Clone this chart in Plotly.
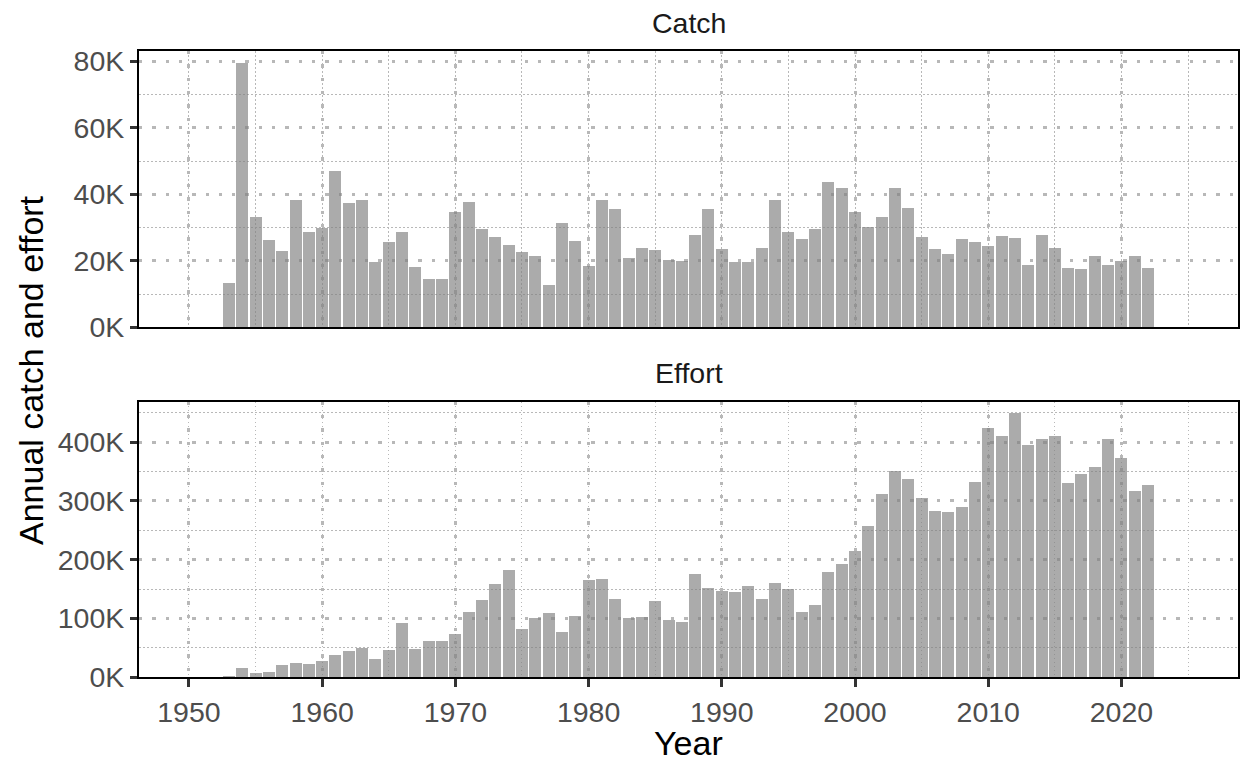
import plotly.graph_objects as go

years = list(range(1953, 2023))

catch = [13.4, 79.6, 33.3, 26.3, 23.0, 38.3, 28.6, 29.8, 47.0, 37.3,
         38.3, 19.5, 25.6, 28.6, 18.1, 14.4, 14.4, 34.6, 37.6, 29.6,
         27.2, 24.8, 22.6, 21.5, 12.7, 31.3, 25.9, 18.4, 38.3, 35.6,
         20.8, 23.8, 23.2, 20.2, 19.8, 27.9, 35.6, 23.6, 19.5, 19.5,
         23.8, 38.3, 28.6, 26.6, 29.6, 43.6, 42.0, 34.6, 30.2, 33.3,
         42.0, 36.0, 27.2, 23.6, 21.9, 26.6, 25.6, 24.6, 27.6, 26.9,
         18.8, 27.9, 23.9, 17.8, 17.4, 21.5, 18.8, 19.8, 21.5, 17.8]
catch = [v * 1000 for v in catch]

effort = [3.4, 17, 7.4, 9, 22, 24.4, 22.7, 27.8, 38, 45.4,
          51, 32.3, 47, 93, 48.8, 62.4, 62.4, 73.7, 111.7, 132.7,
          159.3, 183.7, 82.8, 102, 109.4, 77.1, 105.4, 166, 168.4, 133.8,
          101.5, 103.7, 130.4, 98, 94.1, 175.7, 153, 146.8, 145, 156.5,
          133.8, 160.4, 150.8, 111, 124, 179.7, 192.7, 215.4, 257.4, 312.4,
          352, 337.3, 305, 284, 281.7, 289.7, 333.3, 424, 411, 450,
          396.3, 405.3, 411, 331, 347, 357.7, 405.3, 373, 318, 327]
effort = [v * 1000 for v in effort]

catch_ticks = [0, 20000, 40000, 60000, 80000]
effort_ticks = [0, 100000, 200000, 300000, 400000]
x_ticks = [1950, 1960, 1970, 1980, 1990, 2000, 2010, 2020]

panel_titles = ["Catch", "Effort"]
x_title = "Year"
y_title = "Annual catch and effort"

FONT = "Liberation Sans, Arial, sans-serif"
BAR = "rgba(128,128,128,0.66)"
GRID = "#b8b8b8"
TICKSIZE = 28.5

def k_label(v):
    return f"{int(v/1000)}K"

fig = go.Figure()
fig.add_trace(go.Bar(x=years, y=catch, width=0.9, marker=dict(color=BAR, line=dict(width=0)),
                     xaxis="x", yaxis="y", showlegend=False))
fig.add_trace(go.Bar(x=years, y=effort, width=0.9, marker=dict(color=BAR, line=dict(width=0)),
                     xaxis="x2", yaxis="y2", showlegend=False))

W, H = 1243, 761
xd = [139 / W, 1238 / W]
top_dom = [(H - 327.3) / H, (H - 51) / H]
bot_dom = [(H - 677.3) / H, (H - 401.7) / H]

xcommon = dict(
    range=[1946.25, 2028.75], tickvals=x_ticks,
    showgrid=True, gridcolor=GRID, gridwidth=3.3, griddash="3.3px,10px",
    minor=dict(dtick=5, tick0=1950, showgrid=True, gridcolor=GRID, gridwidth=1.3,
               griddash="1.5px,2.5px", ticks=""),
    showline=True, mirror=True, linecolor="black", linewidth=2,
    zeroline=False, domain=xd, automargin=False,
)
ycommon = dict(
    showgrid=True, gridcolor=GRID, gridwidth=3.3, griddash="3.3px,10px",
    showline=True, mirror=True, linecolor="black", linewidth=2,
    zeroline=False, ticks="outside", ticklen=7, tickwidth=3, tickcolor="#333333",
    tickfont=dict(family=FONT, size=TICKSIZE, color="#4d4d4d"), automargin=False,
)

fig.update_layout(
    width=W, height=H,
    margin=dict(l=0, r=0, t=0, b=0, autoexpand=False),
    paper_bgcolor="white", plot_bgcolor="white",
    bargap=0,
    xaxis=dict(**xcommon, anchor="y", showticklabels=False, ticks=""),
    xaxis2=dict(**xcommon, anchor="y2", showticklabels=True, ticks="outside",
                ticklen=8, tickwidth=3, tickcolor="#333333",
                tickfont=dict(family=FONT, size=TICKSIZE, color="#4d4d4d")),
    yaxis=dict(**ycommon, domain=top_dom, anchor="x", range=[0, 83100],
               tickvals=catch_ticks, ticktext=[k_label(v) for v in catch_ticks],
               minor=dict(tickvals=[10000, 30000, 50000, 70000], showgrid=True, gridcolor=GRID,
                          gridwidth=1.3, griddash="1.5px,2.5px", ticks="")),
    yaxis2=dict(**ycommon, domain=bot_dom, anchor="x2", range=[0, 468700],
                tickvals=effort_ticks, ticktext=[k_label(v) for v in effort_ticks],
                minor=dict(tickvals=[50000, 150000, 250000, 350000, 450000], showgrid=True,
                           gridcolor=GRID, gridwidth=1.3, griddash="1.5px,2.5px", ticks="")),
    annotations=[
        dict(text=panel_titles[0], x=(xd[0] + xd[1]) / 2, y=(H - 23) / H, xref="paper", yref="paper",
             showarrow=False, xanchor="center", yanchor="middle",
             font=dict(family=FONT, size=TICKSIZE, color="#1a1a1a")),
        dict(text=panel_titles[1], x=(xd[0] + xd[1]) / 2, y=(H - 373) / H, xref="paper", yref="paper",
             showarrow=False, xanchor="center", yanchor="middle",
             font=dict(family=FONT, size=TICKSIZE, color="#1a1a1a")),
        dict(text=x_title, x=(xd[0] + xd[1]) / 2, y=(H - 743) / H, xref="paper", yref="paper",
             showarrow=False, xanchor="center", yanchor="middle",
             font=dict(family=FONT, size=34, color="black")),
        dict(text=y_title, x=31 / W, y=(H - 370) / H, xref="paper", yref="paper",
             showarrow=False, xanchor="center", yanchor="middle", textangle=-90,
             font=dict(family=FONT, size=34, color="black")),
    ],
)

fig.write_html("out.html", config={"displayModeBar": False},
               post_script="document.body.style.margin='0';document.body.style.overflow='hidden';")
